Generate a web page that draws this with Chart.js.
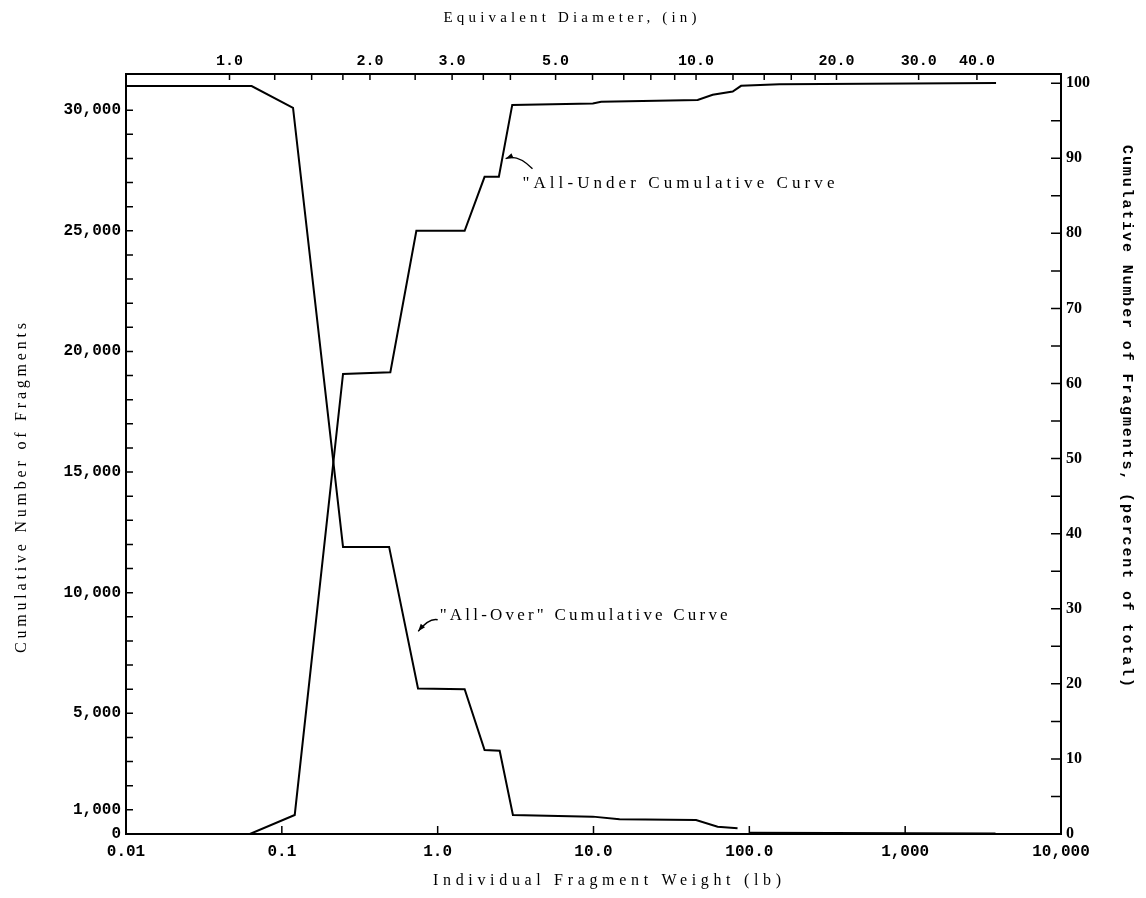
<!DOCTYPE html>
<html>
<head>
<meta charset="utf-8">
<script src="https://cdn.jsdelivr.net/npm/chart.js@4.4.0/dist/chart.umd.min.js"></script>
<style>
  html, body { margin: 0; padding: 0; background: #fff; }
  #wrap { width: 1146px; height: 898px; }
</style>
</head>
<body>
<div id="wrap"><canvas id="chart" width="1146" height="898"></canvas></div>
<script>
// fragment weight (lb) vs cumulative number of fragments
const overWeights = [0.01, 0.064, 0.118, 0.247, 0.488, 0.748, 1.49, 2.0, 2.5, 3.04, 9.9, 14.7, 45.5, 62.6, 84, 90, 100, 3800];
const overCounts = [31000, 31000, 30100, 11900, 11900, 6030, 6000, 3480, 3450, 790, 720, 610, 580, 300, 236, null, 50, 20];
const underWeights = [0.01, 0.0624, 0.121, 0.247, 0.497, 0.73, 1.49, 2.0, 2.47, 3.01, 9.9, 11.2, 46.6, 58.2, 78.2, 88.5, 156, 3830];
const underCounts = [0, 0, 790, 19070, 19140, 25000, 25000, 27240, 27240, 30220, 30280, 30350, 30420, 30640, 30770, 31010, 31080, 31130];

// axis ticks
const weightTicks = [0.01, 0.1, 1, 10, 100, 1000, 10000];
const weightLabels = ['0.01', '0.1', '1.0', '10.0', '100.0', '1,000', '10,000'];
const diameterTicks = [1, 1.25, 1.5, 1.75, 2, 2.5, 3, 3.5, 4, 5, 6, 7, 8, 9, 10, 12, 14, 16, 18, 20, 30, 40];
const diameterLabelled = [1, 2, 3, 5, 10, 20, 30, 40];
const countLabelled = [0, 1000, 5000, 10000, 15000, 20000, 25000, 30000];
const countLabels = ['0', '1,000', '5,000', '10,000', '15,000', '20,000', '25,000', '30,000'];
const percentLabelled = [0, 10, 20, 30, 40, 50, 60, 70, 80, 90, 100];

const countMax = 31500;
const totalFragments = 31120;          // 100 percent
const diameterRefWeight = 0.045;       // weight (lb) of a 1.0 in fragment
const dia = w => Math.cbrt(w / diameterRefWeight);

const countTicks = [];
for (let v = 0; v <= 30000; v += 1000) countTicks.push(v);
const percentTicks = [];
for (let v = 0; v <= 100; v += 5) percentTicks.push(v);

const toPoints = (xs, ys) => xs.map((x, i) => ({ x: x, y: ys[i] }));

const monoFont = { family: 'Liberation Mono', size: 16, weight: 'bold' };

// annotations in data coordinates
const notes = [
  { text: '"All-Under Cumulative Curve', x: 3.5, y: 26980, width: 312,
    from: [4.06, 27570], ctrl: [3.25, 28200], to: [2.73, 27990] },
  { text: '"All-Over" Cumulative Curve', x: 1.03, y: 9075, width: 288,
    from: [1.0, 8880], ctrl: [0.88, 8960], to: [0.75, 8400] }
];

function spacedText(ctx, text, cx, cy, width) {
  ctx.letterSpacing = '0px';
  const natural = ctx.measureText(text).width;
  const sp = Math.max(0, (width - natural) / (text.length - 1));
  ctx.letterSpacing = sp + 'px';
  ctx.fillText(text, cx + sp / 2, cy);
  ctx.letterSpacing = '0px';
}

const decorations = {
  id: 'decorations',
  afterDraw(chart) {
    const ctx = chart.ctx;
    const { left, right, top, bottom } = chart.chartArea;
    const sx = chart.scales.x, sy = chart.scales.y, sy2 = chart.scales.y2, sx2 = chart.scales.x2;
    ctx.save();
    ctx.strokeStyle = '#000';
    ctx.lineWidth = 1.5;
    ctx.beginPath();
    countTicks.forEach(v => { const p = sy.getPixelForValue(v); ctx.moveTo(left, p); ctx.lineTo(left + 7, p); });
    percentTicks.forEach(v => { const p = sy2.getPixelForValue(v); ctx.moveTo(right, p); ctx.lineTo(right - 10, p); });
    weightTicks.forEach(v => { const p = sx.getPixelForValue(v); ctx.moveTo(p, bottom); ctx.lineTo(p, bottom - 8); });
    diameterTicks.forEach(v => { const p = sx2.getPixelForValue(v); ctx.moveTo(p, top); ctx.lineTo(p, top + 6); });
    ctx.stroke();

    // annotation arrows and labels
    ctx.fillStyle = '#000';
    ctx.font = '17px "Liberation Serif"';
    ctx.textBaseline = 'middle';
    notes.forEach(n => {
      const px = v => sx.getPixelForValue(v[0]), py = v => sy.getPixelForValue(v[1]);
      const x0 = px(n.from), y0 = py(n.from), cx = px(n.ctrl), cy = py(n.ctrl), x1 = px(n.to), y1 = py(n.to);
      ctx.lineWidth = 1.3;
      ctx.beginPath();
      ctx.moveTo(x0, y0);
      ctx.quadraticCurveTo(cx, cy, x1, y1);
      ctx.stroke();
      const a = Math.atan2(y1 - cy, x1 - cx);
      ctx.beginPath();
      ctx.moveTo(x1, y1);
      ctx.lineTo(x1 - 8 * Math.cos(a - 0.35), y1 - 8 * Math.sin(a - 0.35));
      ctx.lineTo(x1 - 8 * Math.cos(a + 0.35), y1 - 8 * Math.sin(a + 0.35));
      ctx.closePath();
      ctx.fill();
      ctx.textAlign = 'center';
      spacedText(ctx, n.text, sx.getPixelForValue(n.x) + n.width / 2, sy.getPixelForValue(n.y), n.width);
    });

    // axis titles
    ctx.textAlign = 'center';
    ctx.font = '15px "Liberation Serif"';
    spacedText(ctx, 'Equivalent Diameter, (in)', 570, 18, 253);
    ctx.font = '16px "Liberation Serif"';
    spacedText(ctx, 'Individual Fragment Weight (lb)', 607, 881, 348);
    ctx.save();
    ctx.translate(22, 488);
    ctx.rotate(-Math.PI / 2);
    ctx.font = '16px "Liberation Serif"';
    spacedText(ctx, 'Cumulative Number of Fragments', 0, 0, 330);
    ctx.restore();
    ctx.save();
    ctx.translate(1127, 416);
    ctx.rotate(Math.PI / 2);
    ctx.font = 'bold 15px "Liberation Mono"';
    spacedText(ctx, 'Cumulative Number of Fragments, (percent of total)', 0, 0, 542);
    ctx.restore();
    ctx.restore();
  }
};

const border = { display: true, color: '#000', width: 2 };

new Chart(document.getElementById('chart'), {
  type: 'line',
  data: {
    datasets: [
      { label: 'All-Over', data: toPoints(overWeights, overCounts), borderColor: '#000', borderWidth: 2,
        pointRadius: 0, tension: 0, spanGaps: false, xAxisID: 'x', yAxisID: 'y' },
      { label: 'All-Under', data: toPoints(underWeights, underCounts), borderColor: '#000', borderWidth: 2,
        pointRadius: 0, tension: 0, spanGaps: false, xAxisID: 'x', yAxisID: 'y' }
    ]
  },
  options: {
    responsive: false,
    animation: false,
    devicePixelRatio: 1,
    layout: { padding: 0 },
    plugins: { legend: { display: false }, tooltip: { enabled: false } },
    scales: {
      x: {
        type: 'logarithmic', position: 'bottom', min: 0.01, max: 10000,
        afterFit: s => { s.height = 64; },
        afterBuildTicks: s => { s.ticks = weightTicks.map(v => ({ value: v })); },
        ticks: {
          autoSkip: false, maxRotation: 0, padding: 8, color: '#000', font: monoFont,
          callback: v => { const i = weightTicks.indexOf(v); return i < 0 ? '' : weightLabels[i]; }
        },
        grid: { display: false, drawTicks: false },
        border: border
      },
      x2: {
        type: 'logarithmic', position: 'top', min: dia(0.01), max: dia(10000),
        afterFit: s => { s.height = 74; },
        afterBuildTicks: s => { s.ticks = diameterTicks.map(v => ({ value: v })); },
        ticks: {
          autoSkip: false, maxRotation: 0, padding: 4, color: '#000', font: { family: 'Liberation Mono', size: 15, weight: 'bold' },
          callback: v => diameterLabelled.includes(v) ? v.toFixed(1) : ''
        },
        grid: { display: false, drawTicks: false },
        border: border
      },
      y: {
        type: 'linear', position: 'left', min: 0, max: countMax,
        afterFit: s => { s.width = 126; },
        afterBuildTicks: s => { s.ticks = countLabelled.map(v => ({ value: v })); },
        ticks: {
          autoSkip: false, padding: 5, color: '#000', font: monoFont,
          callback: v => { const i = countLabelled.indexOf(v); return i < 0 ? '' : countLabels[i]; }
        },
        grid: { display: false, drawTicks: false },
        border: border
      },
      y2: {
        type: 'linear', position: 'right', min: 0, max: countMax / totalFragments * 100,
        afterFit: s => { s.width = 85; },
        afterBuildTicks: s => { s.ticks = percentLabelled.map(v => ({ value: v })); },
        ticks: {
          autoSkip: false, padding: 5, color: '#000', font: { family: 'Liberation Serif', size: 16, weight: 'bold' },
          callback: v => String(v)
        },
        grid: { display: false, drawTicks: false },
        border: border
      }
    }
  },
  plugins: [decorations]
});
</script>
</body>
</html>
